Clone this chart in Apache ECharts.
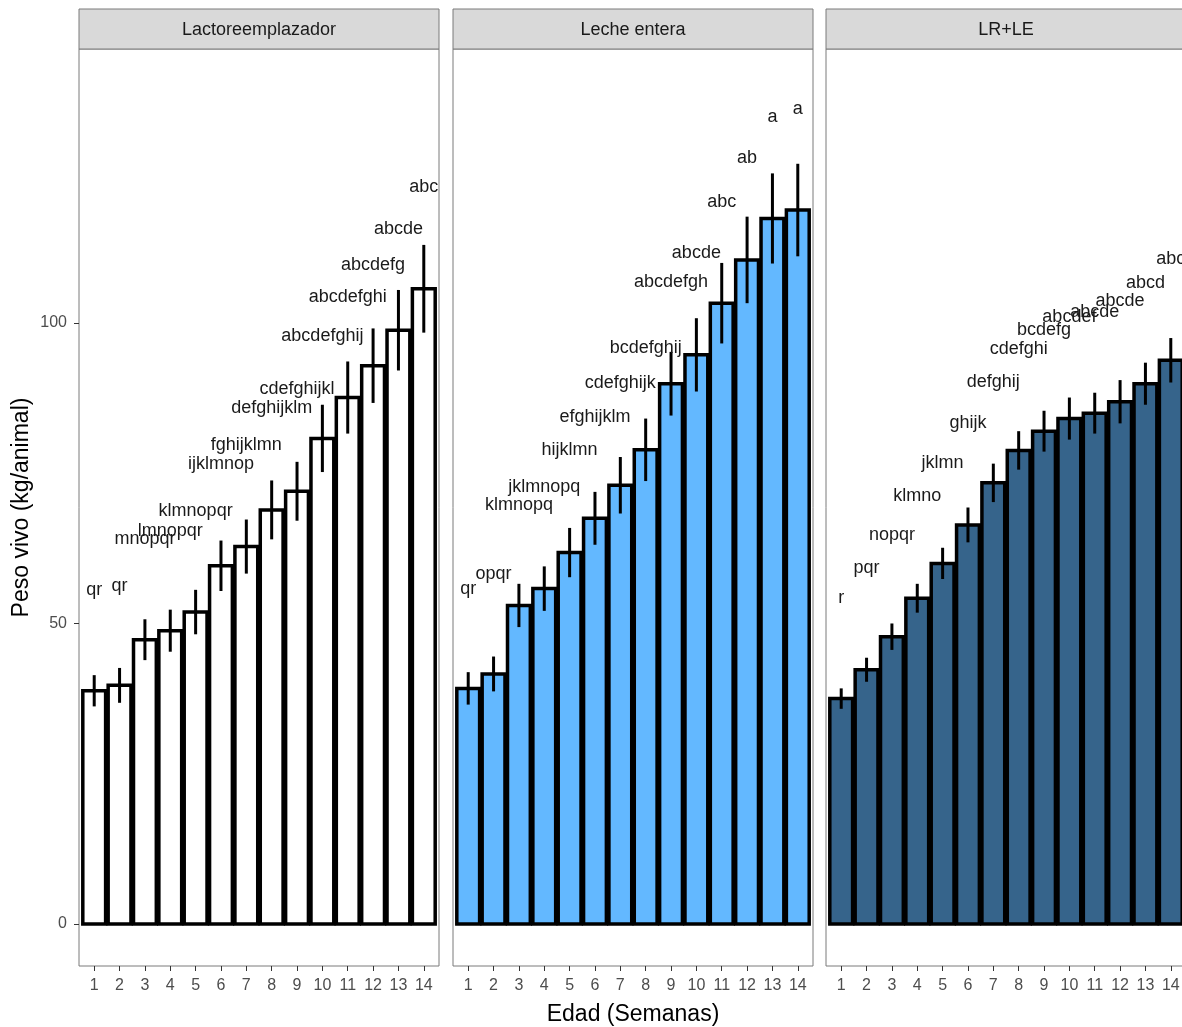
<!DOCTYPE html>
<html>
<head>
<meta charset="utf-8">
<script src="https://cdn.jsdelivr.net/npm/echarts@6/dist/echarts.min.js"></script>
<style>
  html, body { margin: 0; padding: 0; background: #ffffff; }
  #chart { width: 1182px; height: 1027px; }
</style>
</head>
<body>
<div id="chart"></div>
<script>
// Semanas de edad (eje x)
const semanas = [1, 2, 3, 4, 5, 6, 7, 8, 9, 10, 11, 12, 13, 14];
const tratamientos = ['Lactoreemplazador', 'Leche entera', 'LR+LE'];
const ticksPeso = [0, 50, 100];

// Peso vivo medio (kg/animal) por tratamiento
const pesoLR = [38.8, 39.7, 47.3, 48.8, 51.9, 59.6, 62.8, 68.9, 72.0, 80.8, 87.6, 92.9, 98.8, 105.7];
const pesoLE = [39.2, 41.6, 53.0, 55.8, 61.8, 67.5, 73.0, 78.9, 89.9, 94.7, 103.3, 110.5, 117.4, 118.8];
const pesoMix = [37.5, 42.3, 47.8, 54.2, 60.0, 66.4, 73.4, 78.8, 82.0, 84.1, 85.0, 86.9, 89.9, 93.8];

// Error estándar de cada media
const eeLR = [2.6, 2.9, 3.4, 3.5, 3.7, 4.2, 4.5, 4.9, 4.9, 5.6, 6.0, 6.2, 6.7, 7.3];
const eeLE = [2.7, 2.9, 3.6, 3.7, 4.1, 4.4, 4.7, 5.2, 5.3, 6.1, 6.7, 7.2, 7.5, 7.7];
const eeMix = [1.7, 2.0, 2.2, 2.4, 2.6, 2.9, 3.2, 3.2, 3.4, 3.5, 3.4, 3.6, 3.5, 3.7];

// Letras de comparación de medias
const letrasLR = ['qr', 'qr', 'mnopqr', 'lmnopqr', 'klmnopqr', 'ijklmnop', 'fghijklmn', 'defghijklm', 'cdefghijkl', 'abcdefghij', 'abcdefghi', 'abcdefg', 'abcde', 'abc'];
const letrasLE = ['qr', 'opqr', 'klmnopq', 'jklmnopq', 'hijklmn', 'efghijklm', 'cdefghijk', 'bcdefghij', 'abcdefgh', 'abcde', 'abc', 'ab', 'a', 'a'];
const letrasMix = ['r', 'pqr', 'nopqr', 'klmno', 'jklmn', 'ghijk', 'defghij', 'cdefghi', 'bcdefg', 'abcdef', 'abcde', 'abcde', 'abcd', 'abc'];

// Altura (kg) a la que se escribe cada grupo de letras
const alturaLetrasLR = [55.6, 56.3, 64.1, 65.4, 68.7, 76.5, 79.7, 85.8, 89.0, 97.8, 104.4, 109.6, 115.6, 122.6];
const alturaLetrasLE = [55.8, 58.3, 69.7, 72.7, 78.8, 84.3, 90.0, 95.8, 106.9, 111.6, 120.2, 127.4, 134.2, 135.6];
const alturaLetrasMix = [54.2, 59.2, 64.7, 71.2, 76.7, 83.3, 90.2, 95.6, 98.9, 101.0, 101.9, 103.7, 106.7, 110.6];

const pesos = [pesoLR, pesoLE, pesoMix];
const errores = [eeLR, eeLE, eeMix];
const letras = [letrasLR, letrasLE, letrasMix];
const alturas = [alturaLetrasLR, alturaLetrasLE, alturaLetrasMix];
const rellenos = ['#FFFFFF', '#63B8FF', '#36648B'];

const FONT = '"Liberation Sans", Arial, sans-serif';
const panelLeft = [79, 453, 826];
const panelWidth = 360;
const panelTop = 49;
const panelHeight = 917;
const stripTop = 9;
const stripHeight = 40;
const halfBar = 0.45;

const chart = echarts.init(document.getElementById('chart'), null, { renderer: 'canvas' });

const grids = [], xAxes = [], yAxes = [], series = [], graphics = [];

tratamientos.forEach(function (nombre, g) {
  grids.push({
    left: panelLeft[g], top: panelTop, width: panelWidth, height: panelHeight,
    show: true, borderColor: '#7A7A7A', borderWidth: 1, backgroundColor: 'transparent',
    containLabel: false, outerBoundsMode: 'none'
  });

  xAxes.push({
    type: 'value', gridIndex: g, min: 0.4, max: 14.6, position: 'bottom',
    axisLine: { show: false, onZero: false },
    splitLine: { show: false },
    axisTick: { show: true, customValues: semanas, length: 5, lineStyle: { color: '#333333', width: 1 } },
    axisLabel: { show: true, customValues: semanas, margin: 12, color: '#4D4D4D', fontSize: 16, fontFamily: FONT },
    name: g === 1 ? 'Edad (Semanas)' : '',
    nameLocation: 'middle', nameGap: 37,
    nameTextStyle: { color: '#000000', fontSize: 23, fontFamily: FONT }
  });

  yAxes.push({
    type: 'value', gridIndex: g, min: -7, max: 145.6, position: 'left',
    axisLine: { show: false, onZero: false },
    splitLine: { show: false },
    axisTick: { show: g === 0, customValues: ticksPeso, length: 5, lineStyle: { color: '#333333', width: 1 } },
    axisLabel: { show: g === 0, customValues: ticksPeso, margin: 12, color: '#4D4D4D', fontSize: 16, fontFamily: FONT },
    name: g === 0 ? 'Peso vivo (kg/animal)' : '',
    nameLocation: 'middle', nameGap: 46,
    nameTextStyle: { color: '#000000', fontSize: 23, fontFamily: FONT }
  });

  // Barras
  const relleno = rellenos[g];
  series.push({
    type: 'custom', xAxisIndex: g, yAxisIndex: g, z: 2, clip: true,
    data: semanas.map(function (s, i) { return [s, pesos[g][i]]; }),
    renderItem: function (params, api) {
      const x = api.value(0), y = api.value(1);
      const tl = api.coord([x - halfBar, y]);
      const br = api.coord([x + halfBar, 0]);
      return {
        type: 'rect',
        shape: { x: tl[0], y: tl[1], width: br[0] - tl[0], height: br[1] - tl[1] },
        style: { fill: relleno, stroke: '#000000', lineWidth: 3.5 }
      };
    }
  });

  // Barras de error (media ± EE)
  series.push({
    type: 'custom', xAxisIndex: g, yAxisIndex: g, z: 3, clip: true,
    data: semanas.map(function (s, i) { return [s, pesos[g][i] - errores[g][i], pesos[g][i] + errores[g][i]]; }),
    renderItem: function (params, api) {
      const x = api.value(0);
      const a = api.coord([x, api.value(1)]);
      const b = api.coord([x, api.value(2)]);
      return {
        type: 'line',
        shape: { x1: a[0], y1: a[1], x2: b[0], y2: b[1] },
        style: { stroke: '#000000', lineWidth: 3 }
      };
    }
  });

  // Letras de significancia
  const etiquetas = letras[g];
  series.push({
    type: 'custom', xAxisIndex: g, yAxisIndex: g, z: 4, clip: true,
    data: semanas.map(function (s, i) { return [s, alturas[g][i]]; }),
    renderItem: function (params, api) {
      const p = api.coord([api.value(0), api.value(1)]);
      return {
        type: 'text', x: p[0], y: p[1],
        style: {
          text: etiquetas[params.dataIndex], align: 'center', verticalAlign: 'middle',
          fill: '#1A1A1A', fontSize: 18, fontFamily: FONT
        }
      };
    }
  });

  // Cabecera de cada panel
  graphics.push({
    type: 'rect', silent: true,
    shape: { x: panelLeft[g], y: stripTop, width: panelWidth, height: stripHeight },
    style: { fill: '#D9D9D9', stroke: '#7A7A7A', lineWidth: 1 }
  });
  graphics.push({
    type: 'text', silent: true,
    x: panelLeft[g] + panelWidth / 2, y: stripTop + stripHeight / 2 + 1,
    style: { text: nombre, align: 'center', verticalAlign: 'middle', fill: '#1A1A1A', fontSize: 18, fontFamily: FONT }
  });
});

chart.setOption({
  animation: false,
  backgroundColor: '#FFFFFF',
  grid: grids,
  xAxis: xAxes,
  yAxis: yAxes,
  series: series,
  graphic: { elements: graphics }
});
</script>
</body>
</html>
